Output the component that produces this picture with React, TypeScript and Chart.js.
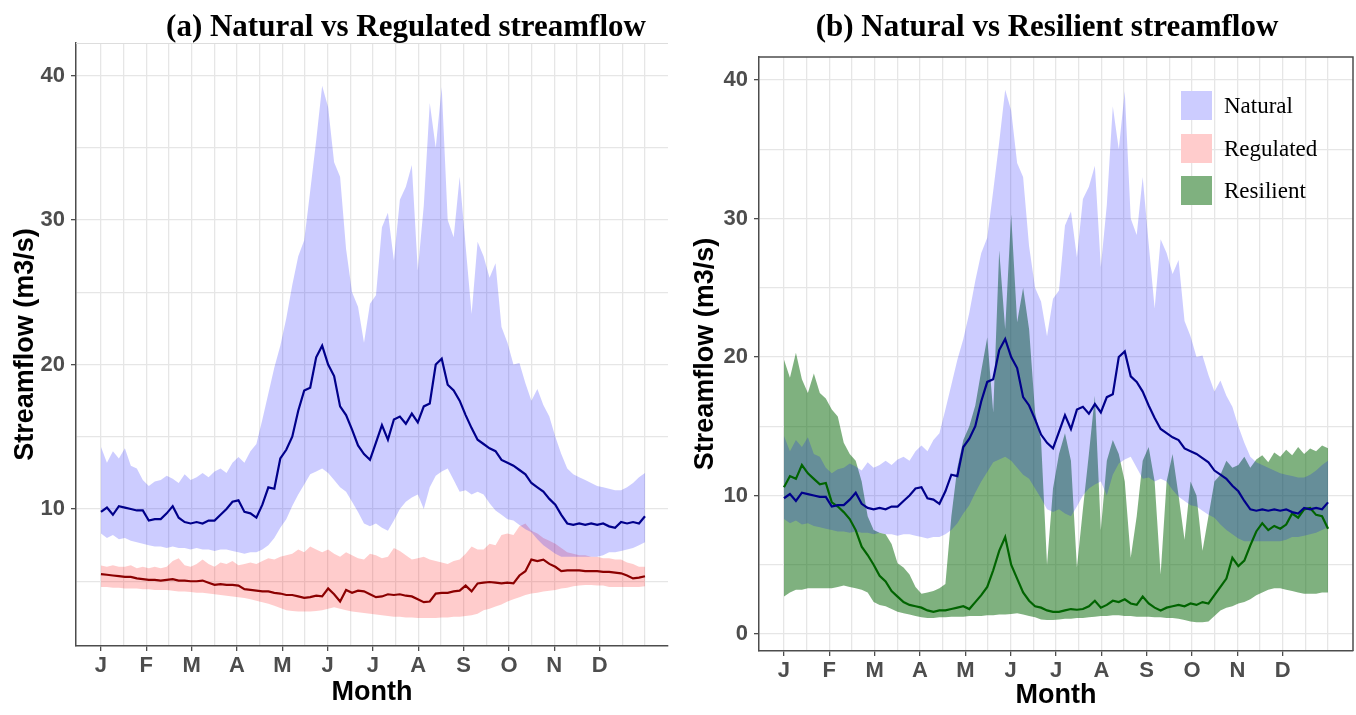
import React, { useEffect, useRef } from 'react';
import { Chart, registerables } from 'chart.js';
Chart.register(...registerables);

// Day of year for each sample (every 4 days)
const DAYS = [1,5,9,13,17,21,25,29,33,37,41,45,49,53,57,61,65,69,73,77,81,85,89,93,97,101,105,109,113,117,121,125,129,133,137,141,145,149,153,157,161,165,169,173,177,181,185,189,193,197,201,205,209,213,217,221,225,229,233,237,241,245,249,253,257,261,265,269,273,277,281,285,289,293,297,301,305,309,313,317,321,325,329,333,337,341,345,349,353,357,361,365];

const MONTH_LABELS = ['J','F','M','A','M','J','J','A','S','O','N','D'];

const NAT_UPPER = [14.3,13.2,14.0,13.5,14.2,13.0,12.8,12.0,11.6,11.9,
12.0,12.3,12.1,11.8,12.4,12.0,12.2,12.5,12.2,12.6,
12.8,12.5,13.2,13.6,13.2,14.0,14.5,16.2,18.0,19.8,
21.3,23.2,25.5,27.5,28.6,32.0,35.5,39.3,37.8,34.0,
33.0,28.0,25.0,24.0,21.5,24.2,24.8,29.5,30.5,27.2,
31.4,32.3,33.8,26.5,31.0,38.1,35.0,39.2,30.0,28.8,
33.0,28.2,23.5,28.5,27.5,26.0,27.0,22.6,21.5,20.0,
20.1,18.7,17.5,18.3,17.2,16.4,15.0,13.8,12.8,12.4,
12.2,12.0,11.8,11.6,11.5,11.4,11.3,11.3,11.5,11.8,
12.2,12.5];

const NAT_LOWER = [8.3,8.0,8.2,7.9,8.0,7.8,7.7,7.6,7.5,7.4,
7.4,7.3,7.4,7.3,7.3,7.2,7.3,7.2,7.2,7.1,
7.2,7.2,7.1,7.0,6.9,7.0,7.0,7.2,7.5,8.0,
8.7,9.3,10.2,11.0,11.7,12.4,12.6,12.8,12.5,12.0,
11.5,11.2,10.5,9.8,9.0,8.8,9.0,8.7,8.5,9.2,
10.0,10.5,10.8,11.0,10.0,11.5,12.3,12.6,12.8,12.0,
11.2,11.3,11.0,11.2,11.0,10.4,9.9,9.6,9.3,9.2,
8.9,8.6,8.4,7.9,7.5,7.2,6.9,6.7,6.7,6.7,
6.7,6.7,6.7,6.7,6.8,7.0,7.0,7.1,7.2,7.3,
7.5,7.7];

const NAT_MEDIAN = [9.8,10.1,9.6,10.2,10.1,10.0,9.9,9.9,9.2,9.3,
9.3,9.7,10.2,9.4,9.1,9.0,9.1,9.0,9.2,9.2,
9.6,10.0,10.5,10.6,9.8,9.7,9.4,10.3,11.5,11.4,
13.5,14.1,15.0,16.8,18.2,18.4,20.5,21.3,20.0,19.2,
17.1,16.5,15.5,14.4,13.8,13.4,14.6,15.8,14.8,16.2,
16.4,15.9,16.6,16.0,17.1,17.3,20.0,20.4,18.6,18.2,
17.5,16.5,15.6,14.8,14.5,14.2,14.0,13.4,13.2,13.0,
12.7,12.4,11.8,11.5,11.2,10.7,10.3,9.6,9.0,8.9,
9.0,8.9,9.0,8.9,9.0,8.8,8.7,9.1,9.0,9.1,
9.0,9.5];

const REG_UPPER = [6.1,6.0,6.1,6.0,6.0,6.1,5.9,6.0,5.9,6.0,
5.9,6.0,6.4,6.6,6.1,6.0,6.2,6.5,6.2,6.0,
6.3,6.2,6.4,6.1,6.2,6.3,6.2,6.4,6.6,6.5,
6.7,6.8,6.9,7.2,7.0,7.4,7.2,7.0,7.2,6.9,
6.7,7.0,6.8,6.6,6.5,6.9,6.8,6.6,6.7,7.3,
7.1,6.8,6.5,6.6,6.7,6.5,6.4,6.3,6.2,6.4,
6.5,6.9,7.4,7.2,7.2,7.6,7.5,8.2,8.3,8.2,
8.8,9.0,8.5,8.3,8.0,7.8,7.6,7.3,7.0,6.9,
6.8,6.8,6.7,6.7,6.6,6.6,6.5,6.5,6.3,6.2,
6.0,6.0];

const REG_LOWER = [4.6,4.6,4.55,4.55,4.5,4.5,4.5,4.45,4.45,4.4,
4.4,4.4,4.35,4.3,4.3,4.25,4.2,4.2,4.15,4.1,
4.05,4.0,3.95,3.9,3.85,3.75,3.65,3.55,3.45,3.3,
3.15,3.0,2.95,2.9,2.9,2.9,2.95,3.0,3.1,3.2,
3.1,3.0,2.9,2.85,2.8,2.75,2.7,2.65,2.6,2.55,
2.55,2.5,2.5,2.45,2.45,2.45,2.45,2.5,2.5,2.55,
2.55,2.6,2.65,2.75,3.0,3.1,3.25,3.4,3.6,3.75,
3.9,4.05,4.15,4.2,4.3,4.35,4.4,4.5,4.55,4.65,
4.7,4.75,4.75,4.7,4.7,4.6,4.6,4.6,4.6,4.6,
4.6,4.65];

const REG_MEDIAN = [5.5,5.45,5.4,5.35,5.3,5.3,5.2,5.15,5.1,5.1,
5.05,5.1,5.15,5.05,5.05,5.0,5.0,5.05,4.9,4.75,
4.8,4.75,4.75,4.7,4.45,4.4,4.35,4.3,4.3,4.2,
4.15,4.05,4.05,3.95,3.85,3.9,4.0,3.95,4.5,4.1,
3.6,4.4,4.2,4.35,4.3,4.1,3.9,3.95,4.1,4.05,
4.1,4.0,3.95,3.75,3.55,3.6,4.15,4.2,4.2,4.3,
4.35,4.7,4.3,4.85,4.9,4.95,4.9,4.85,4.9,4.85,
5.4,5.7,6.5,6.4,6.5,6.2,6.0,5.7,5.75,5.75,
5.75,5.7,5.7,5.7,5.65,5.65,5.6,5.55,5.4,5.2,
5.25,5.35];

const RES_UPPER = [19.8,18.5,20.3,18.4,17.4,18.8,17.4,17.0,16.2,15.7,
13.8,13.0,12.5,11.0,8.5,7.5,7.3,7.2,6.5,5.1,
4.8,4.3,3.4,2.9,3.0,3.1,3.3,3.6,8.5,12.0,
14.0,15.0,16.5,19.0,21.4,16.0,27.7,22.0,30.3,22.5,
25.0,22.0,16.0,14.0,5.0,10.5,13.0,14.5,12.5,4.8,
9.0,13.0,17.2,7.5,12.5,14.0,13.0,11.0,5.5,8.5,
12.5,13.5,11.0,4.3,11.0,13.0,10.0,6.8,11.0,10.0,
6.0,8.5,11.0,11.5,12.5,12.0,12.2,12.8,12.0,12.6,
12.9,12.4,13.1,12.8,13.3,12.9,13.5,13.0,13.4,13.2,
13.6,13.4];

const RES_LOWER = [2.7,3.0,3.2,3.2,3.3,3.3,3.3,3.3,3.3,3.4,
3.5,3.4,3.3,3.2,3.0,2.3,2.1,2.0,1.8,1.6,
1.5,1.4,1.3,1.2,1.15,1.15,1.2,1.2,1.25,1.25,
1.25,1.3,1.3,1.3,1.35,1.35,1.4,1.4,1.45,1.5,
1.4,1.3,1.2,1.05,1.0,1.0,1.05,1.1,1.1,1.15,
1.15,1.2,1.25,1.3,1.3,1.35,1.35,1.3,1.3,1.25,
1.25,1.25,1.2,1.2,1.15,1.15,1.1,1.0,0.9,0.85,
0.85,0.9,1.3,1.7,1.9,2.0,2.2,2.3,2.5,2.8,
3.0,3.2,3.3,3.3,3.2,3.1,3.0,2.9,2.9,2.9,
3.0,3.0];

const RES_MEDIAN = [10.6,11.4,11.2,12.2,11.6,11.2,10.8,10.9,9.5,9.2,
8.8,8.3,7.5,6.3,5.7,5.0,4.2,3.8,3.1,2.7,
2.3,2.1,2.0,1.9,1.7,1.6,1.7,1.7,1.8,1.9,
2.0,1.8,2.3,2.8,3.4,4.6,6.0,7.0,5.0,4.0,
3.0,2.4,2.0,1.9,1.7,1.6,1.6,1.7,1.8,1.75,
1.8,2.0,2.4,1.9,2.1,2.4,2.3,2.5,2.2,2.1,
2.7,2.2,1.9,1.7,1.9,2.0,2.1,2.0,2.2,2.1,
2.3,2.2,2.8,3.4,4.0,5.5,4.9,5.3,6.4,7.4,
8.0,7.5,7.8,7.6,7.9,8.7,8.4,9.0,9.1,8.6,
8.5,7.6];

const Y_TICKS_A = [5,10,15,20,25,30,35,40];
const Y_TICKS_B = [0,5,10,15,20,25,30,35,40];

const SANS = '"Liberation Sans", Arial, sans-serif';
const SERIF = '"Liberation Serif", "Times New Roman", serif';
const GRID = '#E6E6E6';
const AXIS = '#4D4D4D';
const CLEAR = 'rgba(0,0,0,0)';

const GRID_X = Array.from({ length: 25 }, (_, k) => 1 + (k * 364) / 24);

const pts = (arr: number[]) => DAYS.map((d, i) => ({ x: d, y: arr[i] }));

type Panel = {
  title: string;
  titleX: number;
  xMin: number; xMax: number; yMin: number; yMax: number;
  yTicks: number[];
  yWidth: number; xHeight: number;
  padTop: number; padRight: number;
  xTitlePad: number;
  median2: number[]; median2Color: string;
  upper2: number[]; lower2: number[]; fill2: string;
  frame: boolean;
  legend: boolean;
};

function lineDs(data: number[], color: string) {
  return { data: pts(data), borderColor: color, borderWidth: 2.2, pointRadius: 0, fill: false, tension: 0 };
}
function edgeDs(data: number[], fill: any, bg: string) {
  return { data: pts(data), borderWidth: 0, borderColor: CLEAR, backgroundColor: bg, pointRadius: 0, fill, tension: 0 };
}

function build(canvas: HTMLCanvasElement, p: Panel) {
  const deco = {
    id: 'deco',
    afterDraw(chart: any) {
      const ctx = chart.ctx as CanvasRenderingContext2D;
      const a = chart.chartArea;
      ctx.save();
      if (p.frame) {
        ctx.strokeStyle = AXIS;
        ctx.lineWidth = 1.5;
        ctx.beginPath();
        ctx.moveTo(a.left, a.top);
        ctx.lineTo(a.right, a.top);
        ctx.lineTo(a.right, a.bottom);
        ctx.stroke();
      } else {
        ctx.strokeStyle = '#DDDDDD';
        ctx.lineWidth = 1;
        ctx.beginPath();
        ctx.moveTo(a.left, a.top + 0.5);
        ctx.lineTo(a.right, a.top + 0.5);
        ctx.stroke();
      }
      ctx.fillStyle = '#000';
      ctx.font = 'bold 31px ' + SERIF;
      ctx.textAlign = 'center';
      ctx.textBaseline = 'alphabetic';
      ctx.fillText(p.title, p.titleX, 36);
      if (p.legend) {
        const items: [string, string, number][] = [
          ['Natural', '#CCCCFF', 91],
          ['Regulated', '#FFCCCC', 134],
          ['Resilient', '#7FB17F', 176],
        ];
        ctx.font = '23px ' + SERIF;
        ctx.textAlign = 'left';
        ctx.textBaseline = 'middle';
        for (const [label, color, y] of items) {
          ctx.fillStyle = color;
          ctx.fillRect(501, y, 31, 29);
          ctx.fillStyle = '#000';
          ctx.fillText(label, 544, y + 16);
        }
      }
      ctx.restore();
    },
  };

  return new Chart(canvas, {
    type: 'line',
    data: {
      datasets: [
        lineDs(NAT_MEDIAN, '#00008B'),
        lineDs(p.median2, p.median2Color),
        edgeDs(NAT_UPPER, '+1', 'rgba(0,0,255,0.2)'),
        edgeDs(NAT_LOWER, false, CLEAR),
        edgeDs(p.upper2, '+1', p.fill2),
        edgeDs(p.lower2, false, CLEAR),
      ] as any,
    },
    options: {
      responsive: false,
      animation: false,
      devicePixelRatio: 1,
      layout: { padding: { left: 0, right: p.padRight, top: p.padTop, bottom: 0 } },
      plugins: { legend: { display: false }, tooltip: { enabled: false }, title: { display: false } },
      scales: {
        x: {
          type: 'linear',
          min: p.xMin,
          max: p.xMax,
          afterBuildTicks: (s: any) => { s.ticks = GRID_X.map((v) => ({ value: v })); },
          afterFit: (s: any) => { s.height = p.xHeight; },
          grid: {
            color: GRID,
            lineWidth: 1.3,
            tickLength: 5,
            tickColor: (c: any) => (c.index % 2 === 0 && c.index < 24 ? AXIS : CLEAR),
          },
          border: { display: true, color: AXIS, width: 1.5 },
          ticks: {
            autoSkip: false,
            maxRotation: 0,
            padding: 2,
            color: AXIS,
            font: { family: SANS, size: 22, weight: 'bold' },
            callback: (_v: any, i: number) => (i % 2 === 0 && i < 24 ? MONTH_LABELS[i / 2] : ''),
          },
          title: {
            display: true,
            text: 'Month',
            color: '#000',
            font: { family: SANS, size: 27, weight: 'bold' },
            padding: { top: 0, bottom: p.xTitlePad },
          },
        },
        y: {
          type: 'linear',
          min: p.yMin,
          max: p.yMax,
          afterBuildTicks: (s: any) => { s.ticks = p.yTicks.map((v) => ({ value: v })); },
          afterFit: (s: any) => { s.width = p.yWidth; },
          grid: {
            color: GRID,
            lineWidth: 1.3,
            tickLength: 5,
            tickColor: (c: any) => (c.tick && c.tick.value % 10 === 0 ? AXIS : CLEAR),
          },
          border: { display: true, color: AXIS, width: 1.5 },
          ticks: {
            padding: 6,
            color: AXIS,
            font: { family: SANS, size: 22, weight: 'bold' },
            callback: (v: any) => (Number(v) % 10 === 0 ? String(v) : ''),
          },
          title: {
            display: true,
            text: 'Streamflow (m3/s)',
            color: '#000',
            font: { family: SANS, size: 27, weight: 'bold' },
            padding: { top: 9, bottom: 0 },
          },
        },
      },
    } as any,
    plugins: [deco],
  });
}

const PANEL_A: Panel = {
  title: '(a) Natural vs Regulated streamflow',
  titleX: 406,
  xMin: -15.7, xMax: 380.4, yMin: 0.52, yMax: 42.25,
  yTicks: Y_TICKS_A,
  yWidth: 76, xHeight: 69,
  padTop: 43, padRight: 12,
  xTitlePad: 6,
  median2: REG_MEDIAN, median2Color: '#8B0000',
  upper2: REG_UPPER, lower2: REG_LOWER, fill2: 'rgba(255,0,0,0.2)',
  frame: false,
  legend: false,
};

const PANEL_B: Panel = {
  title: '(b) Natural vs Resilient streamflow',
  titleX: 367,
  xMin: -15.7, xMax: 381.7, yMin: -1.23, yMax: 41.66,
  yTicks: Y_TICKS_B,
  yWidth: 79, xHeight: 64,
  padTop: 57, padRight: 3,
  xTitlePad: 3,
  median2: RES_MEDIAN, median2Color: '#006400',
  upper2: RES_UPPER, lower2: RES_LOWER, fill2: 'rgba(0,100,0,0.5)',
  frame: true,
  legend: true,
};

export default function App() {
  const refA = useRef<HTMLCanvasElement>(null);
  const refB = useRef<HTMLCanvasElement>(null);
  useEffect(() => {
    const a = build(refA.current!, PANEL_A);
    const b = build(refB.current!, PANEL_B);
    return () => { a.destroy(); b.destroy(); };
  }, []);
  return (
    <div style={{ position: 'fixed', left: 0, top: 0, width: 1356, height: 715, background: '#fff' }}>
      <canvas ref={refA} width={680} height={715} style={{ position: 'absolute', left: 0, top: 0 }} />
      <canvas ref={refB} width={676} height={715} style={{ position: 'absolute', left: 680, top: 0 }} />
    </div>
  );
}
